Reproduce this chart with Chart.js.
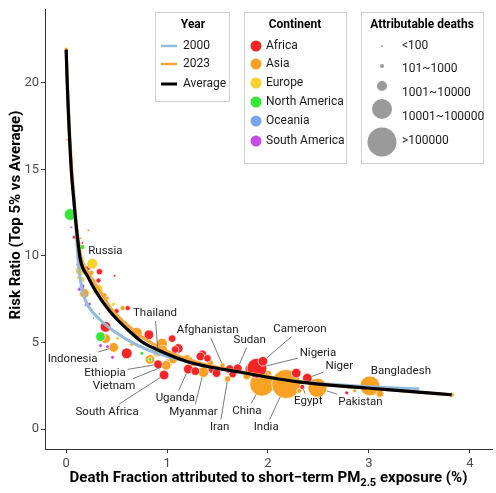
<!DOCTYPE html>
<html>
<head>
<meta charset="utf-8">
<script src="https://cdn.jsdelivr.net/npm/chart.js@4.4.1/dist/chart.umd.min.js"></script>
<style>
  html, body { margin: 0; padding: 0; background: #fff; }
  #chart { display: block; }
</style>
</head>
<body>
<canvas id="chart" width="496" height="493"></canvas>
<script>
// each point: [death fraction (%), risk ratio, attributable deaths, country label]
const africa = [
  [0.08, 11.08, 100], [0.16, 10.74, 20], [0.22, 9.32, 215], [0.33, 9.09, 460],
  [0.48, 8.86, 20], [0.26, 8.58, 215], [0.32, 8.58, 215], [0.15, 8.07, 215],
  [0.50, 6.82, 215], [0.61, 6.99, 215], [0.39, 5.91, 2700], [0.60, 4.38, 2700],
  [0.82, 5.45, 1900], [1.05, 5.23, 1000], [1.11, 4.66, 1900], [1.08, 4.60, 1000],
  [0.91, 3.75, 1400, "Ethiopia"], [0.97, 3.13, 1900, "South Africa"],
  [1.21, 3.47, 1900, "Uganda"], [1.28, 3.35, 1400], [1.35, 4.32, 1400],
  [1.33, 4.20, 1400], [1.40, 4.09, 1000], [1.45, 3.47, 1400], [1.49, 3.24, 1400],
  [1.62, 3.47, 1400], [1.65, 3.18, 1000], [1.70, 3.52, 1400, "Sudan"],
  [1.82, 3.47, 1900], [1.89, 3.52, 46000, "Nigeria"], [1.95, 3.92, 1900, "Cameroon"],
  [2.28, 3.24, 1900], [2.39, 2.95, 1900, "Niger"], [2.34, 2.44, 215, "Egypt"],
  [2.78, 2.10, 100]
];
const asia = [
  [0.00, 21.93, 100], [0.01, 16.70, 20], [0.14, 11.02, 20], [0.22, 11.48, 20],
  [0.25, 9.03, 215], [0.18, 7.84, 1900], [0.38, 7.73, 215], [0.41, 7.56, 100],
  [0.56, 6.99, 215], [0.55, 6.19, 215], [0.39, 5.23, 1900],
  [0.47, 4.72, 1900, "Indonesia"], [0.70, 5.57, 2700], [0.95, 4.94, 2700],
  [0.96, 4.60, 1400], [0.83, 4.03, 1900], [0.83, 5.06, 100], [0.65, 4.89, 100],
  [0.90, 4.38, 1000], [0.91, 4.43, 1000, "Thailand"], [1.01, 3.81, 1400],
  [0.99, 3.69, 1900, "Vietnam"], [1.06, 4.03, 1400], [1.20, 4.09, 1000],
  [1.23, 4.03, 215], [1.26, 3.81, 460], [1.36, 3.30, 2700, "Myanmar"],
  [1.43, 3.81, 460], [1.50, 3.47, 460], [1.60, 2.90, 460, "Iran"],
  [1.55, 3.69, 215, "Afghanistan"], [1.79, 3.07, 1000], [2.00, 3.18, 1000],
  [1.94, 2.61, 150000, "China"], [2.18, 2.61, 410000, "India"],
  [2.31, 2.22, 215], [2.49, 2.39, 36000, "Pakistan"], [2.86, 2.22, 100],
  [3.01, 2.50, 46000, "Bangladesh"], [3.11, 2.05, 1000], [3.82, 1.99, 215]
];
const europe = [
  [0.12, 10.17, 100], [0.26, 9.55, 2700, "Russia"], [0.14, 9.15, 1900],
  [0.12, 8.75, 100], [0.16, 8.64, 215], [0.31, 8.07, 2700], [0.47, 7.22, 100],
  [0.61, 6.02, 100], [0.51, 5.23, 100]
];
const northAmerica = [
  [0.04, 12.39, 3700], [0.16, 10.51, 215], [0.33, 6.65, 20], [0.34, 5.34, 1900],
  [0.75, 4.38, 100], [0.83, 4.03, 100]
];
const oceania = [
  [0.13, 8.18, 20], [0.19, 7.16, 20], [0.27, 6.42, 20]
];
const southAmerica = [
  [0.05, 11.65, 20], [0.11, 9.49, 20], [0.16, 8.24, 215], [0.13, 8.07, 100],
  [0.23, 7.22, 100], [0.34, 4.83, 100], [0.41, 4.77, 100], [0.46, 4.15, 100]
];

// fitted curves
const avgX = [0, 0.01, 0.05, 0.07, 0.10, 0.14, 0.21, 0.30, 0.44, 0.60, 0.75, 0.90, 1.06, 1.23, 1.40, 1.72, 2.00, 2.32, 2.70, 2.98, 3.40, 3.82];
const avgY = [21.9, 20.0, 15.0, 13.6, 11.7, 9.8, 8.85, 7.9, 6.75, 5.8, 5.05, 4.6, 4.2, 3.85, 3.62, 3.3, 3.0, 2.72, 2.5, 2.38, 2.18, 1.99];
const y2000X = [0, 0.01, 0.05, 0.07, 0.10, 0.12, 0.15, 0.19, 0.34, 0.50, 0.67, 0.80, 0.95, 1.10, 1.40, 1.72, 2.00, 2.32, 2.70, 3.00, 3.50];
const y2000Y = [21.8, 20.0, 15.0, 13.5, 11.3, 9.6, 8.3, 7.45, 6.3, 5.55, 4.95, 4.6, 4.3, 4.05, 3.6, 3.3, 3.02, 2.76, 2.56, 2.45, 2.33];
const y2023X = [0, 0.01, 0.05, 0.08, 0.11, 0.15, 0.22, 0.32, 0.46, 0.62, 0.78, 0.95, 1.10, 1.40, 1.72, 2.00, 2.32, 2.70, 3.00, 3.40, 3.82];
const y2023Y = [21.9, 20.2, 15.5, 13.2, 11.4, 9.9, 9.0, 8.1, 6.85, 5.95, 5.2, 4.65, 4.25, 3.7, 3.33, 3.04, 2.74, 2.5, 2.37, 2.17, 1.99];

const xTicks = [0, 1, 2, 3, 4];
const yTicks = [0, 5, 10, 15, 20];
const yearNames = ["2000", "2023", "Average"];
const continentNames = ["Africa", "Asia", "Europe", "North America", "Oceania", "South America"];
const deathBins = ["<100", "101~1000", "1001~10000", "10001~100000", ">100000"];

// styling
const continentColors = ["#f22626", "#f7a224", "#f9d22e", "#35e835", "#79a6f2", "#c64ce9"];
const yearColors = ["#92bcd9", "#f7a53c", "#000000"];
const binRadius = [1, 2, 5, 10, 14.5];
// text offsets in px from the point: [dx, dy, draw segment]
const labelOffsets = {
  "Russia": [13, -13, false], "Thailand": [-3, -39, true], "Indonesia": [-41, 12, true],
  "Ethiopia": [-53, 9, true], "Vietnam": [-52, 21, true], "South Africa": [-57, 37, true],
  "Uganda": [-13, 29, true], "Myanmar": [-10, 40, true], "Afghanistan": [-15, -35, true],
  "Iran": [-8, 48, true], "Sudan": [12, -28, true], "Cameroon": [37, -32, true],
  "Nigeria": [61, -15, true], "Niger": [32, -12, true], "Egypt": [6, 14, true],
  "China": [-15, 27, true], "India": [-20, 43, true], "Pakistan": [43, 14, true],
  "Bangladesh": [31, -15, false]
};

Chart.defaults.font.family = "Roboto";

// radius from deaths, on a log scale
const sizeKnots = [[1, 1], [2, 1.9], [3, 3.8], [4, 7.5], [5, 11.2], [5.7, 15]];
function sizeFor(d) {
  const lg = Math.log10(Math.max(d, 10));
  for (let i = 1; i < sizeKnots.length; i++) {
    const [a, ra] = sizeKnots[i - 1], [b, rb] = sizeKnots[i];
    if (lg <= b || i === sizeKnots.length - 1) return ra + (rb - ra) * (lg - a) / (b - a);
  }
}

function bubbleSet(rows, ci, order) {
  return {
    type: "bubble",
    label: continentNames[ci],
    order: order,
    data: rows.map((p) => ({ x: p[0], y: p[1], r: sizeFor(p[2]) })),
    names: rows.map((p) => p[3] || null),
    backgroundColor: continentColors[ci],
    borderColor: "#ffffff",
    borderWidth: 0.7,
  };
}

function lineSet(xs, ys, color, width, order) {
  return {
    type: "line",
    data: xs.map((x, i) => ({ x: x, y: ys[i] })),
    borderColor: color,
    borderWidth: width,
    pointRadius: 0,
    fill: false,
    cubicInterpolationMode: "monotone",
    order: order,
  };
}

const countryLabels = {
  id: "countryLabels",
  afterDatasetsDraw(chart) {
    const ctx = chart.ctx;
    ctx.save();
    ctx.font = "11.5px Roboto";
    ctx.textAlign = "center";
    ctx.textBaseline = "middle";
    chart.data.datasets.forEach((ds, di) => {
      if (!ds.names) return;
      const meta = chart.getDatasetMeta(di);
      ds.names.forEach((name, i) => {
        if (!name) return;
        const off = labelOffsets[name];
        const pt = meta.data[i];
        const tx = pt.x + off[0], ty = pt.y + off[1];
        if (off[2]) {
          const hw = ctx.measureText(name).width / 2 + 2, hh = 7.5;
          const dx = pt.x - tx, dy = pt.y - ty;
          const t = Math.min(dx ? hw / Math.abs(dx) : Infinity, dy ? hh / Math.abs(dy) : Infinity);
          const len = Math.hypot(dx, dy);
          const r = ds.data[i].r;
          ctx.beginPath();
          ctx.moveTo(tx + dx * t, ty + dy * t);
          ctx.lineTo(pt.x - (dx / len) * r, pt.y - (dy / len) * r);
          ctx.strokeStyle = "#555555";
          ctx.lineWidth = 0.8;
          ctx.stroke();
        }
        ctx.fillStyle = "#1a1a1a";
        ctx.fillText(name, tx, ty);
      });
    });
    ctx.restore();
  },
};

function legendBox(ctx, x0, y0, x1, y1, title, cx) {
  ctx.fillStyle = "#ffffff";
  ctx.fillRect(x0, y0, x1 - x0, y1 - y0);
  ctx.strokeStyle = "#cfcfcf";
  ctx.lineWidth = 1;
  ctx.strokeRect(x0 + 0.5, y0 + 0.5, x1 - x0, y1 - y0);
  ctx.fillStyle = "#000000";
  ctx.font = "bold 12px Roboto";
  ctx.textAlign = "center";
  ctx.textBaseline = "middle";
  ctx.fillText(title, cx, y0 + 13);
}

const decorations = {
  id: "decorations",
  afterDraw(chart) {
    const ctx = chart.ctx;
    const area = chart.chartArea;
    ctx.save();

    // legends
    legendBox(ctx, 155, 12, 229, 101, "Year", 193);
    ctx.font = "12px Roboto";
    ctx.textAlign = "left";
    yearNames.forEach((n, i) => {
      const y = [46, 64, 84][i];
      ctx.beginPath();
      ctx.moveTo(161, y);
      ctx.lineTo(177, y);
      ctx.strokeStyle = yearColors[i];
      ctx.lineWidth = i === 2 ? 3 : 2.5;
      ctx.stroke();
      ctx.fillStyle = "#1a1a1a";
      ctx.fillText(n, 183, y);
    });

    legendBox(ctx, 244, 12, 346, 163, "Continent", 295);
    ctx.font = "12px Roboto";
    ctx.textAlign = "left";
    continentNames.forEach((n, i) => {
      const y = [46, 64, 83, 102, 121, 141][i];
      ctx.beginPath();
      ctx.arc(256, y, 5.5, 0, Math.PI * 2);
      ctx.fillStyle = continentColors[i];
      ctx.fill();
      ctx.fillStyle = "#1a1a1a";
      ctx.fillText(n, 266, y);
    });

    legendBox(ctx, 361, 12, 483, 163, "Attributable deaths", 422);
    ctx.font = "12px Roboto";
    ctx.textAlign = "left";
    deathBins.forEach((n, i) => {
      const cy = [46, 66, 86, 109, 142][i];
      const ty = [46, 69, 93, 117, 141][i];
      ctx.beginPath();
      ctx.arc(382, cy, binRadius[i], 0, Math.PI * 2);
      ctx.fillStyle = "#9a9a9a";
      ctx.fill();
      ctx.fillStyle = "#1a1a1a";
      ctx.fillText(n, 402, ty);
    });

    // axis titles (drawn here for the PM2.5 subscript)
    ctx.fillStyle = "#000000";
    ctx.textBaseline = "alphabetic";
    ctx.textAlign = "left";
    const big = "bold 15px Roboto", small = "bold 11px Roboto";
    const parts = [
      ["Death Fraction attributed to short\u2212term PM", big, 0],
      ["2.5", small, 4],
      [" exposure (%)", big, 0],
    ];
    let total = 0;
    parts.forEach((p) => { ctx.font = p[1]; total += ctx.measureText(p[0]).width; });
    let x = (area.left + area.right) / 2 - total / 2;
    parts.forEach((p) => {
      ctx.font = p[1];
      ctx.fillText(p[0], x, 482 + p[2]);
      x += ctx.measureText(p[0]).width;
    });

    ctx.translate(16, 215);
    ctx.rotate(-Math.PI / 2);
    ctx.font = big;
    ctx.textAlign = "center";
    ctx.textBaseline = "middle";
    ctx.fillText("Risk Ratio (Top 5% vs Average)", 0, 0);
    ctx.restore();
  },
};

const axisStyle = {
  grid: { drawOnChartArea: false, drawTicks: true, tickLength: 4, color: "#333333", lineWidth: 1 },
  border: { display: true, color: "#333333", width: 1 },
};

new Chart(document.getElementById("chart"), {
  type: "bubble",
  data: {
    datasets: [
      lineSet(avgX, avgY, yearColors[2], 3.2, 0),
      lineSet(y2023X, y2023Y, yearColors[1], 3, 1),
      lineSet(y2000X, y2000Y, yearColors[0], 3, 2),
      bubbleSet(northAmerica, 3, 10),
      bubbleSet(southAmerica, 5, 11),
      bubbleSet(oceania, 4, 11),
      bubbleSet(europe, 2, 12),
      bubbleSet(africa, 0, 13),
      bubbleSet(asia, 1, 14),
    ],
  },
  options: {
    responsive: false,
    animation: false,
    events: [],
    layout: { autoPadding: false, padding: { top: 3, right: 4, left: 0, bottom: 0 } },
    plugins: { legend: { display: false }, tooltip: { enabled: false } },
    scales: {
      x: {
        type: "linear",
        min: -0.21,
        max: 4.22,
        afterFit: (s) => { s.height = 44; },
        afterBuildTicks: (s) => { s.ticks = xTicks.map((v) => ({ value: v })); },
        ...axisStyle,
        ticks: { font: { size: 13 }, color: "#4d4d4d", padding: 3 },
      },
      y: {
        type: "linear",
        min: -1.14,
        max: 24.2,
        afterFit: (s) => { s.width = 45; },
        afterBuildTicks: (s) => { s.ticks = yTicks.map((v) => ({ value: v })); },
        ...axisStyle,
        ticks: { font: { size: 13 }, color: "#4d4d4d", padding: 2 },
      },
    },
  },
  plugins: [countryLabels, decorations],
});
</script>
</body>
</html>
